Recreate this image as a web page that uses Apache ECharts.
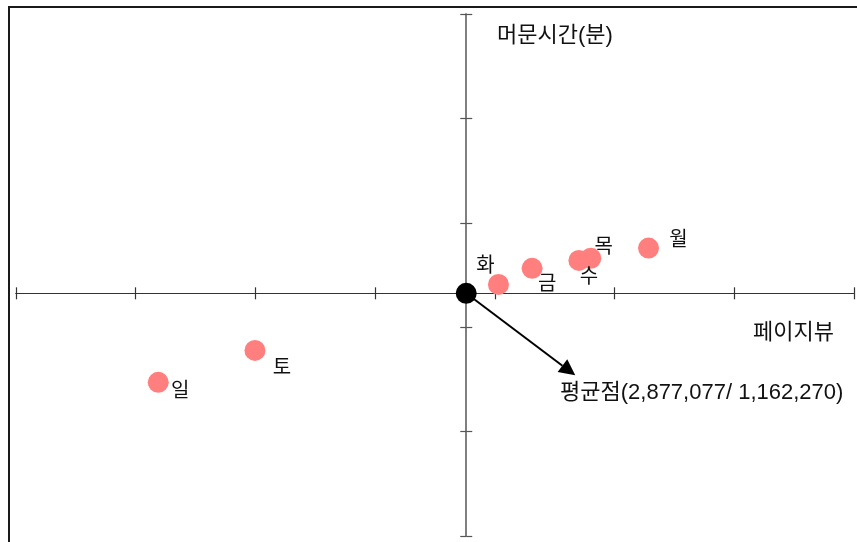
<!DOCTYPE html>
<html>
<head>
<meta charset="utf-8">
<script src="https://cdn.jsdelivr.net/npm/echarts@6/dist/echarts.min.js"></script>
<style>
  html, body { margin: 0; padding: 0; background: #fff; }
  #chart { width: 857px; height: 542px; }
</style>
</head>
<body>
<div id="chart"></div>
<script>
// Day-of-week averages: page views vs. dwell time (minutes)
const days = ['월', '화', '수', '목', '금', '토', '일'];
const pageViews = [4042000, 3083000, 3597000, 3673000, 3298000, 1527000, 909000];
const dwellMinutes = [1379000, 1205000, 1320000, 1330000, 1282000, 889000, 736000];

// Overall mean (the quadrant centre)
const meanPageViews = 2877077;
const meanMinutes = 1162270;

// Tick positions along each axis (in raw units)
const xTicks = [0, 765000, 1530000, 2295000, 3060000, 3825000, 4590000, 5355000];
const yTicks = [0, 500000, 1000000, 1500000, 2000000, 2500000];

const xTitle = '페이지뷰';
const yTitle = '머문시간(분)';
const meanTitle = '평균점';

// Label placement for each day's dot, relative to the dot centre
const labelOffsets = {
  '월': [30, -8], '화': [-13, -18], '수': [10, 17], '목': [13, -11],
  '금': [15, 16], '토': [27, 18], '일': [22, 9]
};

const FONT = "'Liberation Sans', 'Noto Sans CJK KR', sans-serif";
const fmt = v => v.toLocaleString('en-US');

// Values are plotted as deviations from the mean so the axes cross there
const dx = v => v - meanPageViews;
const dy = v => v - meanMinutes;

const chart = echarts.init(document.getElementById('chart'), null, { renderer: 'canvas' });

// Two identical grids: one carries the outward ticks, the other the inward
// ticks, so every tick crosses its axis line.
const gridRect = { left: 16, right: 3, top: 14, bottom: 6, containLabel: false };

function xAxisDef(gridIndex, inside) {
  return {
    type: 'value',
    gridIndex: gridIndex,
    position: 'bottom',
    min: dx(xTicks[0]),
    max: dx(xTicks[xTicks.length - 1]),
    axisLine: { show: true, onZero: true, lineStyle: { color: '#333', width: 1.2 } },
    axisTick: { show: true, inside: inside, length: 6, customValues: xTicks.map(dx),
                lineStyle: { color: '#333', width: 1.2 } },
    axisLabel: { show: false },
    splitLine: { show: false }
  };
}
function yAxisDef(gridIndex, inside) {
  return {
    type: 'value',
    gridIndex: gridIndex,
    position: 'left',
    min: dy(yTicks[0]),
    max: dy(yTicks[yTicks.length - 1]),
    axisLine: { show: true, onZero: true, lineStyle: { color: '#777', width: 1.5 } },
    axisTick: { show: true, inside: inside, length: 6, customValues: yTicks.map(dy),
                lineStyle: { color: '#555', width: 1.2 } },
    axisLabel: { show: false },
    splitLine: { show: false }
  };
}

chart.setOption({
  animation: false,
  backgroundColor: '#fff',
  grid: [Object.assign({}, gridRect), Object.assign({}, gridRect)],
  xAxis: [xAxisDef(0, false), xAxisDef(1, true)],
  yAxis: [yAxisDef(0, false), yAxisDef(1, true)],
  series: [
    {
      type: 'scatter',
      xAxisIndex: 0, yAxisIndex: 0,
      symbolSize: 21,
      itemStyle: { color: '#FF7F7F', opacity: 1 },
      label: {
        show: true, position: 'inside', formatter: '{b}',
        fontFamily: FONT, fontSize: 20, color: '#111',
        align: 'center', verticalAlign: 'middle'
      },
      data: days.map((d, i) => ({
        name: d,
        value: [dx(pageViews[i]), dy(dwellMinutes[i])],
        label: { offset: labelOffsets[d] }
      })),
      z: 3
    },
    {
      type: 'scatter',
      xAxisIndex: 0, yAxisIndex: 0,
      symbolSize: 21,
      itemStyle: { color: '#000', opacity: 1 },
      data: [{ name: meanTitle, value: [dx(meanPageViews), dy(meanMinutes)] }],
      z: 4
    }
  ]
});

// Frame, axis titles and the callout arrow to the mean point
const c = chart.convertToPixel({ xAxisIndex: 0, yAxisIndex: 0 },
  [dx(meanPageViews), dy(meanMinutes)]);
const tip = [c[0] + 109, c[1] + 82];
const len = Math.hypot(tip[0] - c[0], tip[1] - c[1]);
const ux = (tip[0] - c[0]) / len, uy = (tip[1] - c[1]) / len;
const headLen = 16, headHalf = 8;
const base = [tip[0] - ux * headLen, tip[1] - uy * headLen];

chart.setOption({
  graphic: [
    { type: 'rect', shape: { x: 9, y: 7, width: 1000, height: 1000 },
      style: { fill: 'none', stroke: '#1a1a1a', lineWidth: 2 }, z: 0, silent: true },
    { type: 'text', x: 497, y: 36,
      style: { text: yTitle, font: '22px ' + FONT, fill: '#111', textVerticalAlign: 'middle' } },
    { type: 'text', x: 753, y: 333,
      style: { text: xTitle, font: '22px ' + FONT, fill: '#111', textVerticalAlign: 'middle' } },
    { type: 'text', x: 560, y: 393,
      style: { text: meanTitle + '(' + fmt(meanPageViews) + '/ ' + fmt(meanMinutes) + ')',
               font: '22px ' + FONT, fill: '#111', textVerticalAlign: 'middle' } },
    { type: 'line', shape: { x1: c[0], y1: c[1], x2: base[0], y2: base[1] },
      style: { stroke: '#000', lineWidth: 2 }, z: 5 },
    { type: 'polygon',
      shape: { points: [tip,
        [base[0] - uy * headHalf, base[1] + ux * headHalf],
        [base[0] + uy * headHalf, base[1] - ux * headHalf]] },
      style: { fill: '#000' }, z: 5 }
  ]
});
</script>
</body>
</html>
